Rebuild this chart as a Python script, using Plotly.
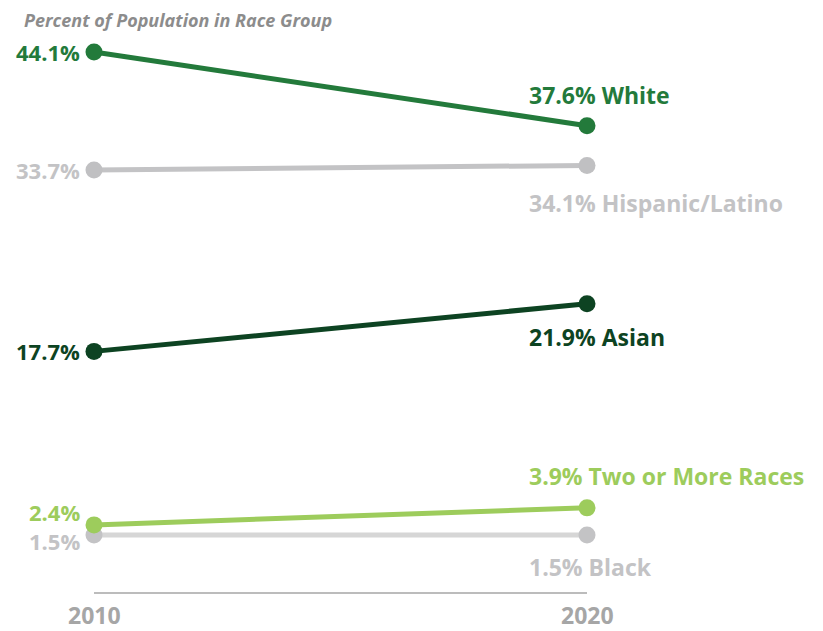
import plotly.graph_objects as go

years = [2010, 2020]
groups = ["White", "Hispanic/Latino", "Asian", "Two or More Races", "Black"]
values_2010 = [44.1, 33.7, 17.7, 2.4, 1.5]
values_2020 = [37.6, 34.1, 21.9, 3.9, 1.5]
line_colors = ["#237a3b", "#c3c3c5", "#0d4322", "#9dcc5c", "#d6d6d6"]
marker_colors = ["#237a3b", "#c0c0c2", "#0d4322", "#9dcc5c", "#c3c3c5"]
text_colors = ["#237a3b", "#c3c3c5", "#0d4322", "#9dcc5c", "#c3c3c5"]
# right label vertical offset (px, + = up), left label offset
right_shift = [31, -38, -33, 32, -32]
left_shift = [0, 0, 0, 13, -6]
tick_labels = ["2010", "2020"]

FONT = "Open Sans"
fig = go.Figure()
order = [4, 3, 1, 2, 0]
for i in order:
    fig.add_trace(go.Scatter(
        x=years, y=[values_2010[i], values_2020[i]], mode="lines+markers",
        line=dict(color=line_colors[i], width=5),
        marker=dict(color=marker_colors[i], size=17),
        showlegend=False, hoverinfo="skip"))

ann = []
for i, g in enumerate(groups):
    ann.append(dict(x=years[0], y=values_2010[i], xref="x", yref="y",
                    text=f"<b>{values_2010[i]:.1f}%</b>", showarrow=False,
                    xanchor="right", yanchor="middle", xshift=-12, yshift=left_shift[i],
                    font=dict(family=FONT, size=22, color=text_colors[i])))
    ann.append(dict(x=years[1], y=values_2020[i], xref="x", yref="y",
                    text=f"<b>{values_2020[i]:.1f}% {g}</b>", showarrow=False,
                    xanchor="left", yanchor="middle", xshift=-60, yshift=right_shift[i],
                    font=dict(family=FONT, size=23, color=text_colors[i])))
for t, yr in zip(tick_labels, years):
    ann.append(dict(x=yr, y=-5.55, xref="x", yref="y", text=f"<b>{t}</b>",
                    showarrow=False, xanchor="center", yanchor="middle",
                    font=dict(family=FONT, size=23, color="#a6a6a6")))
ann.append(dict(x=0.017, y=0.981, xref="paper", yref="paper",
                text="<b><i>Percent of Population in Race Group</i></b>", showarrow=False,
                xanchor="left", yanchor="middle",
                font=dict(family=FONT, size=18, color="#8c8c8c")))

fig.add_shape(type="line", x0=years[0], x1=years[1], y0=-3.6, y1=-3.6,
              xref="x", yref="y", line=dict(color="#a6a6a6", width=1.5))

fig.update_layout(
    width=815, height=623, margin=dict(l=0, r=0, t=0, b=0),
    paper_bgcolor="white", plot_bgcolor="white",
    xaxis=dict(range=[2008.2556, 2024.787], visible=False, fixedrange=True),
    yaxis=dict(range=[-6.958, 47.980], visible=False, fixedrange=True),
    annotations=ann)
fig.write_html("out.html")
